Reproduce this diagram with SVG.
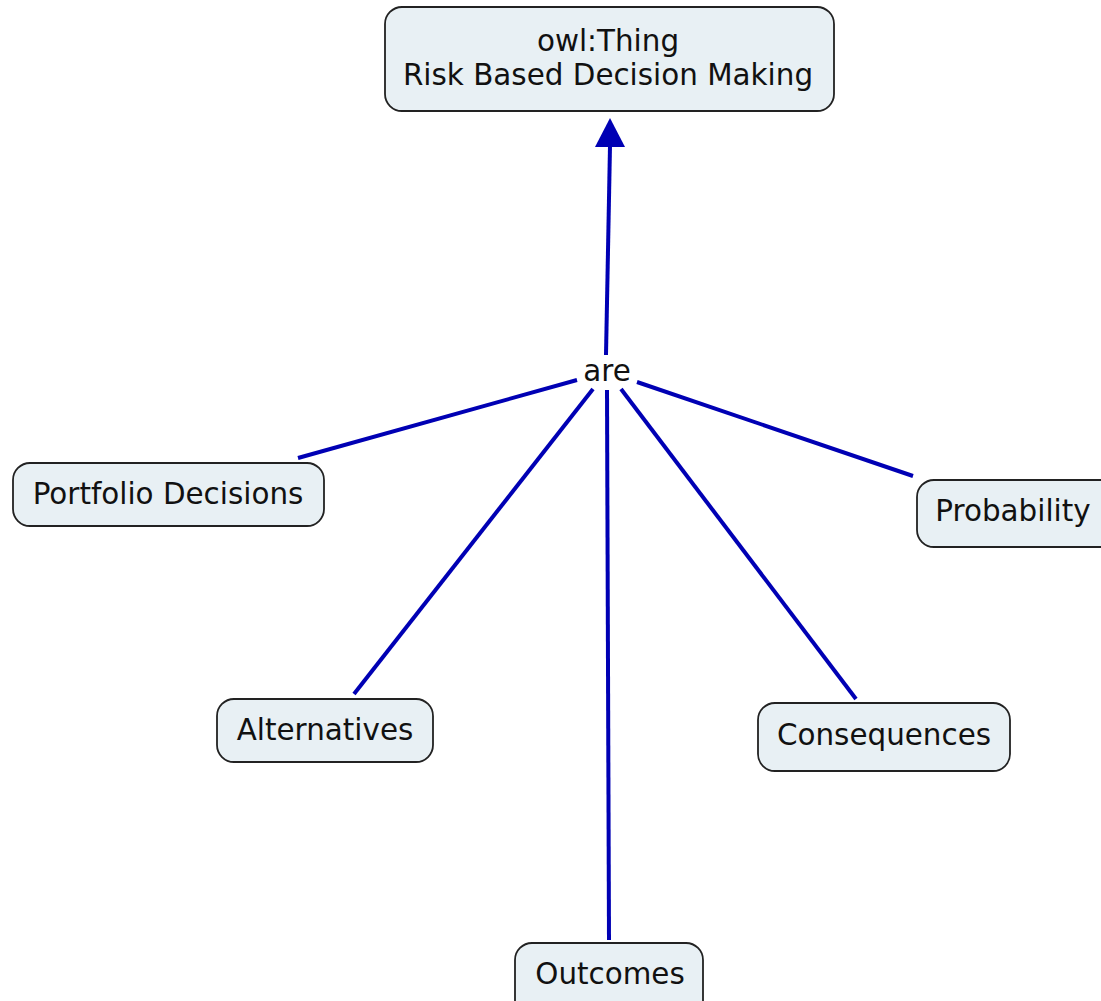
<svg xmlns="http://www.w3.org/2000/svg" width="1101" height="1001" viewBox="0 0 1101 1001">
  <style>
    .node rect { fill: #e8f0f4; stroke: #222222; stroke-width: 1.8; }
    .node text, .label { font-family: "DejaVu Sans", Verdana, sans-serif; font-size: 29.4px; fill: #111111; text-anchor: middle; }
    .link { stroke: #0000b4; stroke-width: 4; fill: none; }
  </style>
  <rect width="1101" height="1001" fill="#ffffff"/>

  <g id="connectors">
    <line class="link" x1="606" y1="355" x2="610" y2="146"/>
    <path d="M610,118 L625,147 L595,147 Z" fill="#0000b4"/>
    <line class="link" x1="577" y1="380" x2="298" y2="458"/>
    <line class="link" x1="593" y1="389" x2="354" y2="694"/>
    <line class="link" x1="607" y1="390" x2="609" y2="940"/>
    <line class="link" x1="621" y1="389" x2="856" y2="699"/>
    <line class="link" x1="637" y1="382" x2="913" y2="476"/>
    <text class="label" x="607" y="381">are</text>
  </g>

  <g id="node-thing" class="node">
    <rect x="385" y="7" width="449" height="104" rx="17"/>
    <text x="608" y="51">owl:Thing</text>
    <text x="608" y="85">Risk Based Decision Making</text>
  </g>
  <g id="node-portfolio" class="node">
    <rect x="13" y="463" width="311" height="63" rx="17"/>
    <text x="168" y="504">Portfolio Decisions</text>
  </g>
  <g id="node-probability" class="node">
    <rect x="917" y="480" width="200" height="67" rx="17"/>
    <text x="1013" y="521">Probability</text>
  </g>
  <g id="node-alternatives" class="node">
    <rect x="217" y="699" width="216" height="63" rx="17"/>
    <text x="325" y="740">Alternatives</text>
  </g>
  <g id="node-consequences" class="node">
    <rect x="758" y="703" width="252" height="68" rx="17"/>
    <text x="884" y="745">Consequences</text>
  </g>
  <g id="node-outcomes" class="node">
    <rect x="515" y="943" width="188" height="80" rx="17"/>
    <text x="610" y="984">Outcomes</text>
  </g>
</svg>
